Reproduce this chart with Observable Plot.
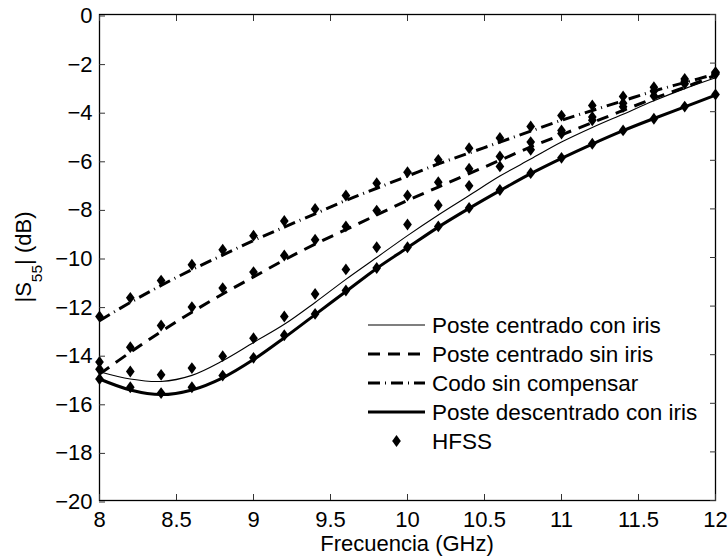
<!DOCTYPE html>
<html>
<head>
<meta charset="utf-8">
<script src="https://cdn.jsdelivr.net/npm/d3@7"></script>
<script src="https://cdn.jsdelivr.net/npm/@observablehq/plot@0.6"></script>
<style>
  html, body { margin: 0; padding: 0; background: #fff; }
  #chart svg { display: block; }
</style>
</head>
<body>
<div id="chart"></div>
<script>
// Frequency samples (GHz)
const freq = [8, 8.2, 8.4, 8.6, 8.8, 9, 9.2, 9.4, 9.6, 9.8, 10, 10.2, 10.4, 10.6, 10.8, 11, 11.2, 11.4, 11.6, 11.8, 12];

// |S55| (dB), circuit model curves
const centradoConIris = [-14.7, -15.0, -15.1, -14.85, -14.25, -13.5, -12.75, -11.85, -10.9, -10.0, -9.1, -8.25, -7.45, -6.65, -5.95, -5.25, -4.65, -4.1, -3.55, -3.05, -2.6];
const centradoSinIris = [-14.8, -13.9, -13.05, -12.25, -11.5, -10.8, -10.1, -9.45, -8.85, -8.25, -7.65, -7.1, -6.55, -6.0, -5.45, -4.95, -4.45, -3.95, -3.45, -3.0, -2.5];
const codoSinCompensar = [-12.6, -11.85, -11.15, -10.5, -9.9, -9.3, -8.75, -8.2, -7.65, -7.15, -6.65, -6.15, -5.7, -5.25, -4.8, -4.35, -3.95, -3.55, -3.15, -2.8, -2.45];
const descentradoConIris = [-15.0, -15.45, -15.64, -15.45, -14.95, -14.2, -13.3, -12.35, -11.4, -10.45, -9.6, -8.75, -7.98, -7.25, -6.55, -5.92, -5.33, -4.78, -4.28, -3.8, -3.32];

// |S55| (dB), HFSS simulation points
const hfssCentradoConIris = [-14.6, -14.69, -14.83, -14.55, -14.06, -13.32, -12.43, -11.5, -10.49, -9.58, -8.64, -7.85, -7.05, -6.25, -5.57, -4.9, -4.35, -3.8, -3.35, -2.85, -2.45];
const hfssCentradoSinIris = [-14.3, -13.69, -12.8, -12.04, -11.26, -10.6, -9.92, -9.27, -8.72, -8.07, -7.45, -6.9, -6.35, -5.84, -5.25, -4.77, -4.22, -3.65, -3.15, -2.75, -2.4];
const hfssCodoSinCompensar = [-12.43, -11.66, -10.95, -10.3, -9.68, -9.1, -8.5, -8.0, -7.45, -6.94, -6.49, -5.98, -5.5, -5.08, -4.61, -4.16, -3.74, -3.37, -2.99, -2.65, -2.37];
const hfssDescentradoConIris = [-15.0, -15.34, -15.58, -15.34, -14.86, -14.13, -13.2, -12.32, -11.36, -10.43, -9.58, -8.72, -7.96, -7.22, -6.53, -5.9, -5.32, -4.77, -4.29, -3.79, -3.29];

// Axis ticks and labels
const xTicks = [8, 8.5, 9, 9.5, 10, 10.5, 11, 11.5, 12];
const yTicks = [-20, -18, -16, -14, -12, -10, -8, -6, -4, -2, 0];
const seriesNames = ["Poste centrado con iris", "Poste centrado sin iris", "Codo sin compensar", "Poste descentrado con iris"];
const markerName = "HFSS";
const xLabel = "Frecuencia (GHz)";

const modelSeries = [centradoConIris, centradoSinIris, codoSinCompensar, descentradoConIris];
const hfssSeries = [hfssCentradoConIris, hfssCentradoSinIris, hfssCodoSinCompensar, hfssDescentradoConIris];

// Line styles per series
const lineStyles = [
  {strokeWidth: 1.1, strokeDasharray: null},
  {strokeWidth: 3, strokeDasharray: "12,8"},
  {strokeWidth: 3, strokeDasharray: "12,5,1,5"},
  {strokeWidth: 3, strokeDasharray: null}
];

const FONT = "'Liberation Sans', Arial, Helvetica, sans-serif";
const fmtY = d => d < 0 ? "\u2212" + Math.abs(d) : String(d);

// Slightly taller-than-wide diamond marker
const tallDiamond = {
  draw(ctx, size) {
    const r = Math.sqrt(size / Math.PI);
    const w = r * 0.82, h = r * 1.12;
    ctx.moveTo(0, -h);
    ctx.lineTo(w, 0);
    ctx.lineTo(0, h);
    ctx.lineTo(-w, 0);
    ctx.closePath();
  }
};

const lineData = modelSeries.map((vals, i) => freq.map((f, j) => ({f, v: vals[j], s: i})));
const dotData = hfssSeries.flatMap((vals, i) => freq.map((f, j) => ({f, v: vals[j], s: i})));

const marks = [];
lineData.forEach((d, i) => {
  marks.push(Plot.line(d, {
    x: "f", y: "v", curve: "catmull-rom", stroke: "black",
    strokeWidth: lineStyles[i].strokeWidth,
    strokeDasharray: lineStyles[i].strokeDasharray,
    strokeLinecap: "butt"
  }));
});
marks.push(Plot.dot(dotData, {x: "f", y: "v", symbol: tallDiamond, r: 5.3, fill: "black", stroke: "none"}));
marks.push(Plot.frame({stroke: "black", strokeWidth: 1.3}));
marks.push(Plot.axisX(xTicks, {anchor: "bottom", tickSize: -6, tickPadding: 16.5, tickFormat: d => String(d), label: null, fontSize: 22, stroke: "#333"}));
marks.push(Plot.axisX(xTicks, {anchor: "top", tickSize: -6, tickFormat: () => "", label: null, stroke: "#333"}));
marks.push(Plot.axisY(yTicks, {anchor: "left", tickSize: -6, tickPadding: 13, dy: 1.5, tickFormat: fmtY, label: null, fontSize: 22, stroke: "#333"}));
marks.push(Plot.axisY(yTicks, {anchor: "right", tickSize: -6, tickFormat: () => "", label: null, stroke: "#333"}));

const chart = Plot.plot({
  width: 728,
  height: 557,
  marginTop: 14,
  marginRight: 13,
  marginBottom: 57,
  marginLeft: 99,
  style: {fontFamily: FONT, fontSize: "22px", background: "white", color: "black"},
  x: {domain: [8, 12]},
  y: {domain: [-20, 0]},
  marks
});

const svg = d3.select(chart);

// x-axis title
svg.append("text")
  .attr("x", (99 + 715) / 2).attr("y", 551)
  .attr("text-anchor", "middle")
  .style("font-family", FONT).style("font-size", "22px").attr("fill", "black")
  .text(xLabel);

// y-axis title with subscript
const yl = svg.append("text")
  .attr("transform", "translate(31,257) rotate(-90)")
  .attr("text-anchor", "middle")
  .style("font-family", FONT).style("font-size", "22px").attr("fill", "black");
yl.append("tspan").text("|S");
yl.append("tspan").attr("dy", 11).style("font-size", "15.5px").text("55");
yl.append("tspan").attr("dy", -11).text("| (dB)");

// Legend
const lg = svg.append("g")
  .attr("text-anchor", "start")
  .style("font-family", FONT).style("font-size", "22.5px");
const lx0 = 368, lx1 = 425, ltx = 432, ly0 = 325, lstep = 29;
seriesNames.forEach((name, i) => {
  const y = ly0 + i * lstep;
  lg.append("line")
    .attr("x1", lx0).attr("x2", lx1).attr("y1", y).attr("y2", y)
    .attr("stroke", "black")
    .attr("stroke-width", lineStyles[i].strokeWidth)
    .attr("stroke-dasharray", lineStyles[i].strokeDasharray);
  lg.append("text").attr("x", ltx).attr("y", y + 8).attr("fill", "black").text(name);
});
{
  const y = ly0 + seriesNames.length * lstep;
  lg.append("path")
    .attr("transform", `translate(${(lx0 + lx1) / 2},${y})`)
    .attr("d", d3.symbol(tallDiamond, Math.PI * 5.3 * 5.3)())
    .attr("fill", "black");
  lg.append("text").attr("x", ltx).attr("y", y + 8).attr("fill", "black").text(markerName);
}

document.getElementById("chart").appendChild(chart);
</script>
</body>
</html>
